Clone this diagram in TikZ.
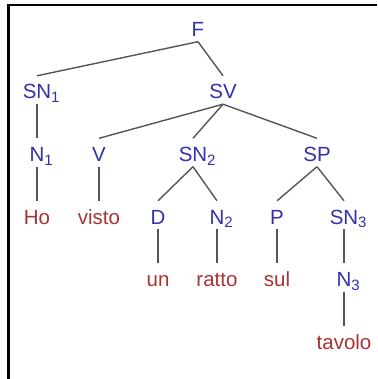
\documentclass[tikz,border=0pt]{standalone}
\usepackage{fontspec}
\usepackage{xcolor}
\setmainfont{Liberation Sans}
\usetikzlibrary{trees}

\definecolor{catblue}{RGB}{50,50,168}
\definecolor{wordred}{RGB}{168,50,52}
\definecolor{edgegray}{RGB}{85,85,85}
\newcommand{\catsub}[1]{\rlap{\raisebox{-3.5pt}{\fontsize{15pt}{15pt}\selectfont #1}}}

\begin{document}
\begin{tikzpicture}[x=1pt, y=1pt,
        level distance=71.5pt,
        level 1/.style = {sibling distance=186pt},
        level 2/.style = {sibling distance=124pt},
        level 3/.style = {sibling distance=60pt},
        edge from parent/.style = {draw, color=edgegray, line width=1.4pt},
        edge from parent path = {(\tikzparentnode.south) -- (\tikzchildnode.north)},
        cat/.style = {anchor=base, inner sep=0pt,
          text height=23pt, text depth=5pt,
          font=\fontsize{20.5pt}{24pt}\selectfont,
          color=catblue},
        word/.style = {anchor=base, inner sep=0pt,
          text height=23pt, text depth=5pt,
          font=\fontsize{20.5pt}{24pt}\selectfont,
          color=wordred}]
        \useasboundingbox (0,0) rectangle (377,-379);
        \draw[line width=2.4pt] (377,-5) -- (8.6,-5) -- (8.6,-379);
        \node[cat] (f) at (198,-36.5) {F}
            child[xshift=-68pt]{node[cat] (sn1) {SN\catsub{1}}
                    child{node[cat] (n1) {N\catsub{1}}
                            child{node[word] (ho) {Ho}}}}
            child[xshift=-68pt]{node[cat] (sv) {SV}
                    child{node[cat] (v) {V}
                            child{node[word] (visto) {visto}}}
                    child[xshift=-30pt]{node[cat] (sn2) {SN\catsub{2}}
                            child[xshift=-5pt]{node[cat] (d) {D}
                                    child{node[word] (un) {un}}}
                            child[xshift=-6pt]{node[cat] (n2) {N\catsub{2}}
                                    child{node[word] (ratto) {ratto}}}}
                    child[xshift=-30pt]{node[cat] (sp) {SP}
                            child[xshift=-10pt]{node[cat] (p) {P}
                                    child{node[word] (sul) {sul}}}
                            child[xshift=-3pt]{node[cat] (sn3) {SN\catsub{3}}
                                    child{node[cat] (n3) {N\catsub{3}}
                                            child{node[word] (tavolo) {tavolo}}}}}};
      \end{tikzpicture}
\end{document}
